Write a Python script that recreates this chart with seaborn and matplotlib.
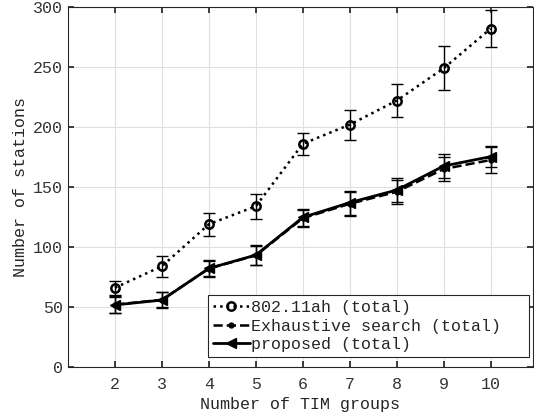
import matplotlib
matplotlib.use("Agg")
import matplotlib.pyplot as plt
import seaborn as sns
import pandas as pd
import numpy as np

groups = [2, 3, 4, 5, 6, 7, 8, 9, 10]
ah_mean = [66, 84, 119, 134, 186, 202, 222, 249, 282]
ah_err = [6, 8.6, 9.6, 10.5, 9, 12.5, 13.5, 18.5, 15.5]
ex_mean = [52, 56, 82, 93, 124, 136, 146, 165, 172.5]
ex_err = [7, 6.3, 6.6, 8, 7, 10, 10, 10, 11]
pr_mean = [51.7, 55.8, 82.2, 93.3, 124.7, 137, 147.5, 167.5, 175.3]
pr_err = [7, 6.3, 6.6, 8, 7, 10, 10, 10, 9]
series_names = ["802.11ah (total)", "Exhaustive search (total)", "proposed (total)"]
yticks = [0, 50, 100, 150, 200, 250, 300]
xticks = [2, 3, 4, 5, 6, 7, 8, 9, 10]

FS = 12

sns.set_theme(style="whitegrid")
plt.rcParams['font.family'] = ['Liberation Mono', 'DejaVu Sans Mono']
plt.rcParams['font.size'] = FS

fig = plt.figure(figsize=(5.34, 4.18), dpi=100)
ax = fig.add_axes([68/534, 51/418, (533-68)/534, (367-7)/418])

df = pd.DataFrame({
    "x": groups * 3,
    "y": ah_mean + ex_mean + pr_mean,
    "s": [series_names[0]] * 9 + [series_names[1]] * 9 + [series_names[2]] * 9,
})

styles = {
    series_names[0]: dict(ls=":", marker="o", ms=6, mfc="none", mew=1.8, lw=1.8),
    series_names[1]: dict(ls="--", marker="o", ms=3.5, mfc="black", mew=1, lw=1.8),
    series_names[2]: dict(ls="-", marker="<", ms=7, mfc="black", mew=1, lw=2.0),
}
errs = {series_names[0]: ah_err, series_names[1]: ex_err, series_names[2]: pr_err}
means = {series_names[0]: ah_mean, series_names[1]: ex_mean, series_names[2]: pr_mean}

for name in series_names:
    st = styles[name]
    sub = df[df.s == name]
    sns.lineplot(data=sub, x="x", y="y", ax=ax, color="black", linestyle=st["ls"],
                 marker=st["marker"], markersize=st["ms"], markerfacecolor=st["mfc"],
                 markeredgecolor="black", markeredgewidth=st["mew"], linewidth=st["lw"],
                 label=name, zorder=3)
    ax.errorbar(groups, means[name], yerr=errs[name], fmt="none", ecolor="black",
                elinewidth=1.0, capsize=4, capthick=1.0, zorder=2)

ax.set_xlim(1, 10.9)
ax.set_ylim(0, 300)
ax.set_xticks(xticks)
ax.set_yticks(yticks)
ax.set_xlabel("Number of TIM groups", fontsize=FS, color="#262626", labelpad=4)
ax.set_ylabel("Number of stations", fontsize=FS, color="#262626", labelpad=4)
ax.tick_params(axis="both", direction="in", length=4, color="#262626", labelcolor="#333333",
               labelsize=FS, top=True, right=True, bottom=True, left=True)
ax.tick_params(axis="x", pad=7)
ax.grid(True, color="#e0e0e0", linewidth=0.8)
for sp in ax.spines.values():
    sp.set_color("#262626")
    sp.set_linewidth(0.8)

leg = ax.legend(loc="lower left", bbox_to_anchor=(0.301, 0.028, 0.690, 0.178), mode="expand",
                frameon=True, fancybox=False,
                edgecolor="#262626", framealpha=1, fontsize=FS, handlelength=2.2,
                handletextpad=0.1, borderpad=0.3, labelspacing=0.2, borderaxespad=0.0)
leg.get_frame().set_linewidth(0.8)

fig.savefig("out.png", dpi=100)
